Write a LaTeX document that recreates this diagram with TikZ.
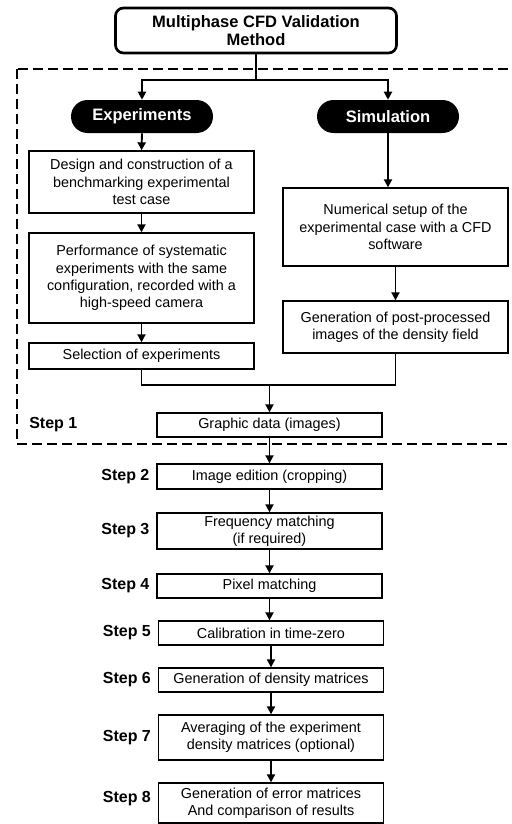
\documentclass[tikz,border=0pt]{standalone}
\usepackage{fontspec}
\setmainfont{Liberation Sans}
\usepackage{tikz}
\usetikzlibrary{shapes,arrows.meta,positioning,calc}

\begin{document}
\begin{tikzpicture}[
			x=0.75pt,
			y=-0.75pt,
			font=\fontsize{10.8}{13}\selectfont,
			titlebox/.style={
				rectangle,
				draw,
				line width=2pt,
				rounded corners=6pt,
				minimum width=210.75pt,
				minimum height=33.75pt,
				inner sep=0pt,
				align=center,
				font=\fontsize{12.4}{14}\selectfont\bfseries
			},
			branch/.style={
				rounded rectangle,
				fill=black,
				text=white,
				minimum width=106.5pt,
				minimum height=24.75pt,
				inner sep=0pt,
				font=\fontsize{12.4}{14}\selectfont\bfseries
			},
			stagebox/.style={
				rectangle,
				draw,
				line width=1pt,
				minimum width=168.75pt,
				inner sep=0pt,
				align=center
			},
			steplabel/.style={
				anchor=east,
				inner sep=0pt,
				font=\fontsize{12}{14}\selectfont\bfseries
			},
			arrow/.style={-{Triangle[length=6pt,width=6pt]}, line width=1.4pt},
			link/.style={line width=1.4pt}
			]
			\useasboundingbox (0,0) rectangle (511,824);
			% Step 1 frame (open on the right side)
			\draw[line width=0.9pt, dash pattern=on 7.5pt off 3.75pt] (17,69) rectangle (540,444);
			% Title
			\node[titlebox] (title) at (256,30.5) {Multiphase CFD Validation\\Method};
			% The two branches
			\node[branch] (exp) at (142,116.5) {Experiments};
			\node[branch] (sim) at (388,116.5) {Simulation};
			\coordinate (split) at (256,80);
			\draw[link] (title.south) -- (split);
			\draw[arrow] (split) -| (exp.north);
			\draw[arrow] (split) -| (sim.north);
			% Experimental branch
			\node[stagebox, minimum height=46.5pt] (design) at (141.5,182) {Design and construction of a\\benchmarking experimental\\test case};
			\node[stagebox, minimum height=67.5pt] (perform) at (141.5,278) {Performance of systematic\\experiments with the same\\configuration, recorded with a\\high-speed camera};
			\node[stagebox, minimum height=19.5pt] (select) at (141.5,356) {Selection of experiments};
			\draw[arrow] (exp.south) -- (design.north);
			\draw[arrow] (design.south) -- (perform.north);
			\draw[arrow] (perform.south) -- (select.north);
			% Numerical branch
			\node[stagebox, minimum height=58.5pt] (setup) at (395.5,227) {Numerical setup of the\\experimental case with a CFD\\software};
			\node[stagebox, minimum height=39pt] (post) at (395.5,327) {Generation of post-processed\\images of the density field};
			\draw[arrow] (sim.south) -- (sim.south |- setup.north);
			\draw[arrow] (setup.south) -- (post.north);
			% Merge into graphic data
			\node[stagebox, minimum height=18pt] (graphic) at (269.5,425) {Graphic data (images)};
			\coordinate (merge) at (269.5,385);
			\draw[link] (select.south) |- (merge) -| (post.south);
			\draw[arrow] (merge) -- (graphic.north);
			\node[steplabel, anchor=west] (s1) at (29,425) {Step 1};
			% Processing steps
			\node[stagebox, minimum height=18.75pt] (crop) at (269.5,476.5) {Image edition (cropping)};
			\node[stagebox, minimum height=27pt] (freq) at (269.5,531) {Frequency matching\\(if required)};
			\node[stagebox, minimum height=18pt] (pixel) at (269.5,586) {Pixel matching};
			\node[stagebox, minimum height=18pt] (calib) at (271,633) {Calibration in time-zero};
			\node[stagebox, minimum height=18pt] (dens) at (271,680) {Generation of density matrices};
			\node[stagebox, minimum height=33.75pt] (avg) at (271,737.5) {Averaging of the experiment\\density matrices (optional)};
			\node[stagebox, minimum height=30pt] (err) at (271,803) {Generation of error matrices\\And comparison of results};
			\draw[arrow] (graphic.south) -- (crop.north);
			\draw[arrow] (crop.south) -- (freq.north);
			\draw[arrow] (freq.south) -- (pixel.north);
			\draw[arrow] (pixel.south) -- (pixel.south |- calib.north);
			\draw[arrow] (calib.south) -- (dens.north);
			\draw[arrow] (dens.south) -- (avg.north);
			\draw[arrow] (avg.south) -- (err.north);
			% Step labels
			\node[steplabel] (s2) at ([xshift=-5pt]crop.west) {Step 2};
			\node[steplabel] (s3) at ([xshift=-5pt]freq.west) {Step 3};
			\node[steplabel] (s4) at ([xshift=-5pt]pixel.west) {Step 4};
			\node[steplabel] (s5) at ([xshift=-5pt]calib.west) {Step 5};
			\node[steplabel] (s6) at ([xshift=-5pt]dens.west) {Step 6};
			\node[steplabel] (s7) at ([xshift=-5pt]avg.west) {Step 7};
			\node[steplabel] (s8) at ([xshift=-5pt,yshift=3pt]err.west) {Step 8};
		\end{tikzpicture}
\end{document}
